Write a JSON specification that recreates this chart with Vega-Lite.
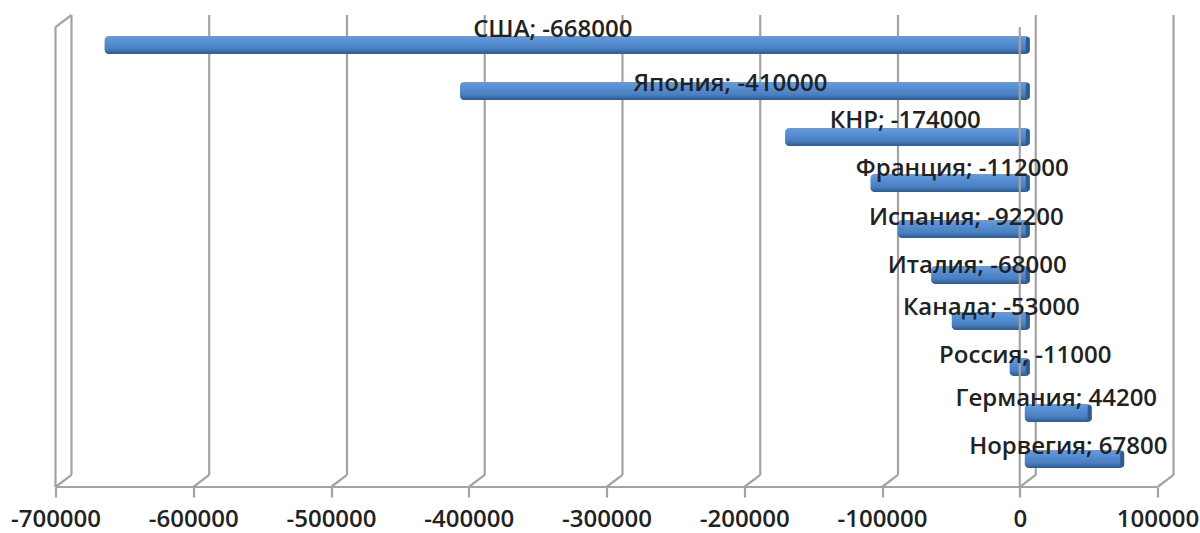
{
"$schema":"https://vega.github.io/schema/vega-lite/v6.json",
"width":1118,"height":472,
"autosize":{"type":"none"},
"padding":{"left":55.5,"top":15,"right":26.5,"bottom":46},
"background":"white",
"config":{"view":{"stroke":null}},
"datasets":{
"bars":[
{"country":"США","value":-668000,"rank":1,"label":"США; -668000","labelAt":-339000,"labelRank":0.65},
{"country":"Япония","value":-410000,"rank":2,"label":"Япония; -410000","labelAt":-210000,"labelRank":1.83},
{"country":"КНР","value":-174000,"rank":3,"label":"КНР; -174000","labelAt":-83100,"labelRank":2.63},
{"country":"Франция","value":-112000,"rank":4,"label":"Франция; -112000","labelAt":-41700,"labelRank":3.67},
{"country":"Испания","value":-92200,"rank":5,"label":"Испания; -92200","labelAt":-38800,"labelRank":4.74},
{"country":"Италия","value":-68000,"rank":6,"label":"Италия; -68000","labelAt":-30900,"labelRank":5.78},
{"country":"Канада","value":-53000,"rank":7,"label":"Канада; -53000","labelAt":-20700,"labelRank":6.7},
{"country":"Россия","value":-11000,"rank":8,"label":"Россия; -11000","labelAt":4000,"labelRank":7.74},
{"country":"Германия","value":44200,"rank":9,"label":"Германия; 44200","labelAt":26500,"labelRank":8.67},
{"country":"Норвегия","value":67800,"rank":10,"label":"Норвегия; 67800","labelAt":35200,"labelRank":9.72}
],
"frame":[
{"a":-700000,"b":-688400,"c":0.609,"d":0.348},
{"a":-700000,"b":-700000,"c":0.609,"d":10.609},
{"a":-700000,"b":100000,"c":10.609,"d":10.609},
{"a":-688400,"b":-688400,"c":0.348,"d":10.348},
{"a":-588400,"b":-588400,"c":0.348,"d":10.348},
{"a":-488400,"b":-488400,"c":0.348,"d":10.348},
{"a":-388400,"b":-388400,"c":0.348,"d":10.348},
{"a":-288400,"b":-288400,"c":0.348,"d":10.348},
{"a":-188400,"b":-188400,"c":0.348,"d":10.348},
{"a":-88400,"b":-88400,"c":0.348,"d":10.348},
{"a":11600,"b":11600,"c":0.348,"d":10.348},
{"a":111600,"b":111600,"c":0.348,"d":10.348},
{"a":-700000,"b":-688400,"c":10.609,"d":10.348},
{"a":-600000,"b":-588400,"c":10.609,"d":10.348},
{"a":-500000,"b":-488400,"c":10.609,"d":10.348},
{"a":-400000,"b":-388400,"c":10.609,"d":10.348},
{"a":-300000,"b":-288400,"c":10.609,"d":10.348},
{"a":-200000,"b":-188400,"c":10.609,"d":10.348},
{"a":-100000,"b":-88400,"c":10.609,"d":10.348},
{"a":0,"b":11600,"c":10.609,"d":10.348},
{"a":100000,"b":111600,"c":10.609,"d":10.348}
],
"zeroLine":[{"a":0,"b":0,"c":0.609,"d":10.609}]
},
"layer":[
{"data":{"name":"frame"},
 "mark":{"type":"rule","color":"#a3a3a3","strokeWidth":2.2},
 "encoding":{
  "x":{"field":"a","type":"quantitative","scale":{"domain":[-700000,111600],"nice":false,"zero":false},
   "axis":{"title":null,"grid":false,"domain":false,"values":[-700000,-600000,-500000,-400000,-300000,-200000,-100000,0,100000],"labelExpr":"'' + datum.value","tickColor":"#a3a3a3","tickWidth":2.2,"tickSize":10,"labelPadding":10,"labelFont":"Open Sans","labelFontWeight":600,"labelFontSize":24,"labelColor":"#222222","labelOverlap":false,"labelBound":false,"labelFlush":false}},
  "x2":{"field":"b"},
  "y":{"field":"c","type":"quantitative","scale":{"domain":[0.348,10.609],"reverse":true,"nice":false,"zero":false,"padding":0},"axis":null},
  "y2":{"field":"d"}
 }},
{"data":{"name":"bars"},"transform":[{"filter":"datum.value<0"}],
 "mark":{"type":"bar","orient":"horizontal","size":18,"cornerRadius":4,"xOffset":5,"x2Offset":10,
  "fill":{"x1":0,"y1":0,"x2":0,"y2":1,"gradient":"linear","stops":[{"offset":0,"color":"#6d9bd0"},{"offset":0.3,"color":"#5890d6"},{"offset":0.7,"color":"#4a7fc0"},{"offset":1,"color":"#2f5b8e"}]}},
 "encoding":{
  "x":{"field":"value","type":"quantitative"},
  "x2":{"datum":0},
  "y":{"field":"rank","type":"quantitative"}
 }},
{"data":{"name":"bars"},"transform":[{"filter":"datum.value>0"}],
 "mark":{"type":"bar","orient":"horizontal","size":18,"cornerRadius":4,"xOffset":11,"x2Offset":5,
  "fill":{"x1":0,"y1":0,"x2":0,"y2":1,"gradient":"linear","stops":[{"offset":0,"color":"#6d9bd0"},{"offset":0.3,"color":"#5890d6"},{"offset":0.7,"color":"#4a7fc0"},{"offset":1,"color":"#2f5b8e"}]}},
 "encoding":{
  "x":{"field":"value","type":"quantitative"},
  "x2":{"datum":0},
  "y":{"field":"rank","type":"quantitative"}
 }},
{"data":{"name":"bars"},"transform":[{"filter":"datum.value<0"}],
 "mark":{"type":"bar","orient":"horizontal","size":16,"cornerRadius":3,"xOffset":6,"x2Offset":10,"fill":"#2f5b8e"},
 "encoding":{
  "x":{"datum":0,"type":"quantitative"},
  "x2":{"datum":0},
  "y":{"field":"rank","type":"quantitative"}
 }},
{"data":{"name":"bars"},"transform":[{"filter":"datum.value>0"}],
 "mark":{"type":"bar","orient":"horizontal","size":16,"cornerRadius":3,"xOffset":7,"x2Offset":11,"fill":"#2f5b8e"},
 "encoding":{
  "x":{"field":"value","type":"quantitative"},
  "x2":{"field":"value"},
  "y":{"field":"rank","type":"quantitative"}
 }},
{"data":{"name":"zeroLine"},
 "mark":{"type":"rule","color":"#a3a3a3","strokeWidth":2.2},
 "encoding":{
  "x":{"field":"a","type":"quantitative"},
  "x2":{"field":"b"},
  "y":{"field":"c","type":"quantitative"},
  "y2":{"field":"d"}
 }},
{"data":{"name":"bars"},
 "mark":{"type":"text","font":"Open Sans","fontWeight":600,"fontSize":24,"color":"#222222","align":"center","baseline":"middle","dy":1},
 "encoding":{
  "x":{"field":"labelAt","type":"quantitative"},
  "y":{"field":"labelRank","type":"quantitative"},
  "text":{"field":"label"}
 }}
]
}
